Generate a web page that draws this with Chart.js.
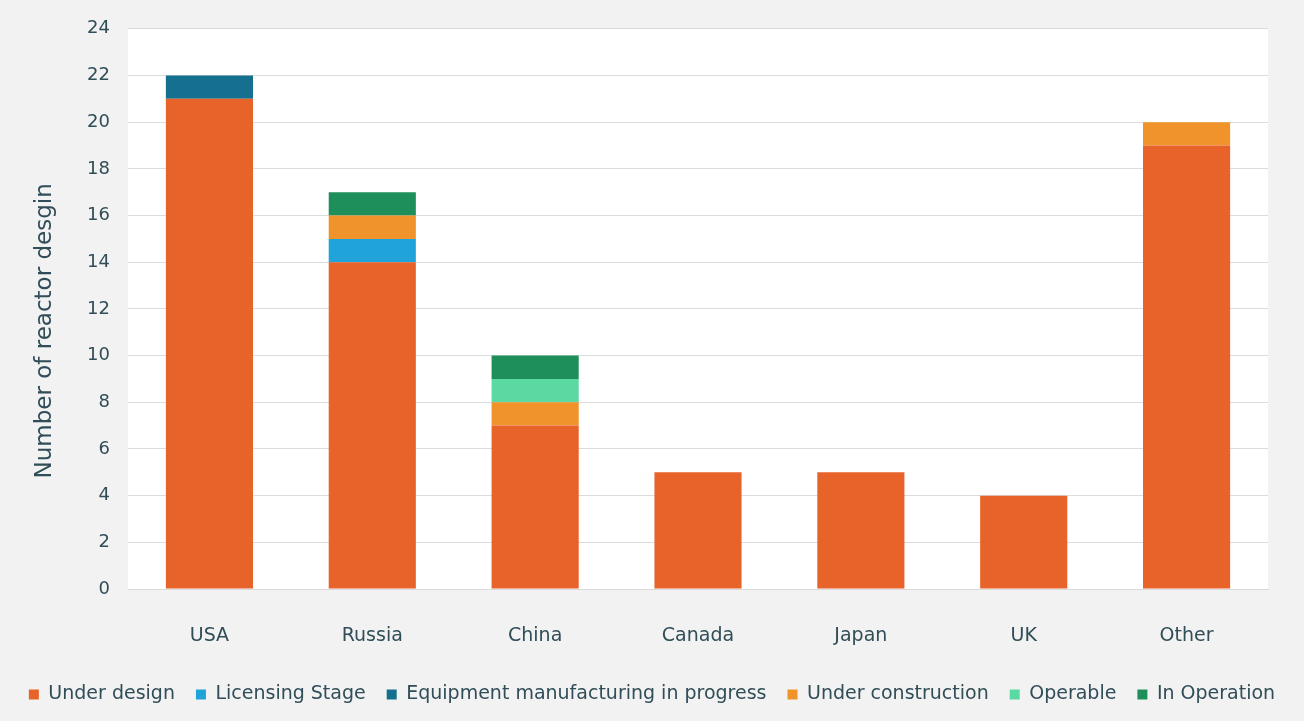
<!DOCTYPE html>
<html>
<head>
<meta charset="utf-8">
<script src="https://cdn.jsdelivr.net/npm/chart.js@4/dist/chart.umd.min.js"></script>
<style>
  html, body { margin: 0; padding: 0; background: #f2f2f2; }
  #wrap { width: 1304px; height: 721px; }
</style>
</head>
<body>
<div id="wrap"><canvas id="chart" width="1304" height="721"></canvas></div>
<script>
// ==========================
// Data
// ==========================
const countries = ["USA", "Russia", "China", "Canada", "Japan", "UK", "Other"];
const underDesign = [21, 14, 7, 5, 5, 4, 19];
const licensing = [0, 1, 0, 0, 0, 0, 0];
const equipment = [1, 0, 0, 0, 0, 0, 0];
const underConstruction = [0, 1, 1, 0, 0, 0, 1];
const operable = [0, 0, 1, 0, 0, 0, 0];
const inOperation = [0, 1, 1, 0, 0, 0, 0];
const yTicks = [0, 2, 4, 6, 8, 10, 12, 14, 16, 18, 20, 22, 24];

const textColor = "#304d58";
const font = "'DejaVu Sans', Verdana, sans-serif";

// white plot background
const plotBg = {
  id: "plotBg",
  beforeDraw(chart) {
    const { ctx, chartArea: a } = chart;
    ctx.save();
    ctx.fillStyle = "#ffffff";
    ctx.fillRect(a.left, a.top, a.right - a.left, a.bottom - a.top);
    ctx.restore();
  }
};

function ds(label, data, color) {
  return { label, data, backgroundColor: color, borderWidth: 0 };
}

new Chart(document.getElementById("chart"), {
  type: "bar",
  data: {
    labels: countries,
    datasets: [
      ds("Under design", underDesign, "#e8632a"),
      ds("Licensing Stage", licensing, "#1fa3d9"),
      ds("Equipment manufacturing in progress", equipment, "#14708e"),
      ds("Under construction", underConstruction, "#f0932a"),
      ds("Operable", operable, "#5bd9a2"),
      ds("In Operation", inOperation, "#1e8f5b")
    ]
  },
  options: {
    responsive: false,
    animation: false,
    categoryPercentage: 1,
    barPercentage: 0.535,
    layout: { padding: { top: 28, right: 0, left: 0, bottom: 7 } },
    plugins: {
      tooltip: { enabled: false },
      legend: {
        position: "bottom",
        labels: {
          color: textColor,
          font: { family: font, size: 19 },
          boxWidth: 10,
          boxHeight: 10,
          padding: 21
        }
      }
    },
    scales: {
      x: {
        stacked: true,
        grid: { display: false },
        border: { display: true, color: "#d9d9d9" },
        ticks: { color: textColor, font: { family: font, size: 19 }, padding: 28 },
        afterFit: s => { s.height = 75; }
      },
      y: {
        stacked: true,
        min: 0,
        max: 24,
        afterBuildTicks: s => { s.ticks = yTicks.map(v => ({ value: v })); },
        grid: { color: "#dcdcdc", drawTicks: false },
        border: { display: false },
        ticks: { color: textColor, font: { family: font, size: 18 }, padding: 18 },
        title: {
          display: true,
          text: "Number of reactor desgin      ",
          color: textColor,
          font: { family: font, size: 23 },
          padding: { top: 31, bottom: 8 }
        },
        afterFit: s => { s.width = 128; }
      },
      // empty right-hand axis, only keeps the margin right of the plot
      yRight: {
        position: "right",
        grid: { display: false },
        border: { display: false },
        ticks: { display: false },
        afterFit: s => { s.width = 36; }
      }
    }
  },
  plugins: [plotBg]
});
</script>
</body>
</html>
